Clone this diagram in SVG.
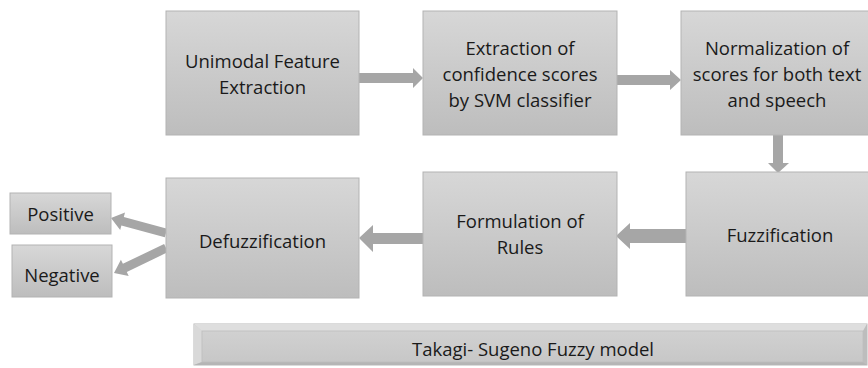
<svg xmlns="http://www.w3.org/2000/svg" width="868" height="368" viewBox="0 0 868 368">
<defs>
<linearGradient id="g" x1="0" y1="0" x2="0" y2="1">
<stop offset="0" stop-color="#d7d7d7"/>
<stop offset="1" stop-color="#bdbdbd"/>
</linearGradient>
<linearGradient id="gb" x1="0" y1="0" x2="0" y2="1">
<stop offset="0" stop-color="#d3d3d3"/>
<stop offset="1" stop-color="#c6c6c6"/>
</linearGradient>
</defs>
<style>
.box{fill:url(#g);stroke:#b3b3b3;stroke-width:1}
.t{font-family:"Open Sans","Liberation Sans",sans-serif;font-size:18.5px;fill:#1a1a1a;text-anchor:middle}
.arr{fill:#a6a6a6;stroke:none}
</style>
<rect width="868" height="368" fill="#ffffff"/>
<g id="connectors">
<polygon class="arr" points="358,73 413,73 413,68 423,78 413,88 413,83 358,83"/>
<polygon class="arr" points="616,75 670,75 670,70 681,80 670,90 670,85 616,85"/>
<polygon class="arr" points="773,134 783,134 783,163 789,163 778,173 768,163 773,163"/>
<polygon class="arr" points="687,229 630,229 630,223 616,236 630,249 630,243 687,243"/>
<polygon class="arr" points="424,233 373,233 373,225 359,238 373,252 373,244 424,244"/>
<polygon class="arr" points="167.2,228.7 123.8,216.9 125,212.5 111,218 120.2,229.9 121.4,225.5 164.8,237.3"/>
<polygon class="arr" points="168,252.1 126.8,271.9 128.7,275.9 114,273 120.9,259.7 122.9,263.8 164.1,244"/>
</g>
<g id="n1"><rect class="box" x="166" y="11" width="193" height="124"/>
<text class="t" x="262.5" y="68">Unimodal Feature</text><text class="t" x="262.5" y="94">Extraction</text></g>
<g id="n2"><rect class="box" x="423" y="11" width="194" height="124"/>
<text class="t" x="520" y="55">Extraction of</text><text class="t" x="520" y="81">confidence scores</text><text class="t" x="520" y="107">by SVM classifier</text></g>
<g id="n3"><rect class="box" x="681" y="11" width="190" height="124"/>
<text class="t" x="777" y="55">Normalization of</text><text class="t" x="777" y="81">scores for both text</text><text class="t" x="777" y="107">and speech</text></g>
<g id="n4"><rect class="box" x="686" y="172" width="185" height="124"/>
<text class="t" x="780" y="242">Fuzzification</text></g>
<g id="n5"><rect class="box" x="423" y="172" width="194" height="124"/>
<text class="t" x="520" y="228">Formulation of</text><text class="t" x="520" y="254">Rules</text></g>
<g id="n6"><rect class="box" x="166" y="178" width="193" height="120"/>
<text class="t" x="262.5" y="248">Defuzzification</text></g>
<g id="n7"><rect class="box" x="10" y="193" width="101" height="41"/>
<text class="t" x="60.5" y="221">Positive</text></g>
<g id="n8"><rect class="box" x="12" y="245" width="100" height="52"/>
<text class="t" x="62" y="282">Negative</text></g>
<g id="n9">
<rect x="194" y="324" width="673" height="41" fill="url(#gb)" stroke="#b8b8b8" stroke-width="1"/>
<polygon points="194,324 867,324 863,331 202,331" fill="#dedede"/>
<polygon points="194,324 202,331 202,362 194,365" fill="#d9d9d9"/>
<polygon points="867,324 863,331 863,362 867,365" fill="#bdbdbd"/>
<polygon points="194,365 202,362 863,362 867,365" fill="#b5b5b5"/>
<rect x="202" y="331" width="661" height="31" fill="none" stroke="#bdbdbd" stroke-width="0.8"/>
<text class="t" x="533" y="356">Takagi- Sugeno Fuzzy model</text></g>
</svg>
